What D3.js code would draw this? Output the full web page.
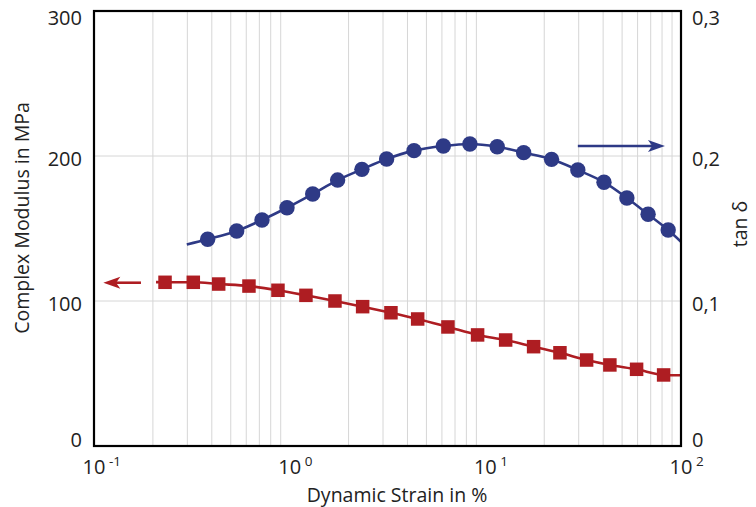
<!DOCTYPE html>
<html>
<head>
<meta charset="utf-8">
<script src="https://cdn.jsdelivr.net/npm/d3@7"></script>
<style>
  body { margin: 0; background: #fff; }
  text { font-family: "Open Sans", "Noto Sans", sans-serif; fill: #222; }
</style>
</head>
<body>
<div id="chart"></div>
<script>
// tan delta (right axis), blue circles
const tanStrain = [0.381, 0.536, 0.722, 0.969, 1.311, 1.758, 2.34, 3.13, 4.32, 6.10, 8.34, 11.5, 15.7, 21.8, 29.7, 40.4, 52.9, 67.9, 86.0];
const tanDelta  = [0.1426, 0.1483, 0.1559, 0.1643, 0.1738, 0.1834, 0.1908, 0.1979, 0.2037, 0.2069, 0.2083, 0.2064, 0.2023, 0.1977, 0.1903, 0.1819, 0.1710, 0.1598, 0.1490];
// fitted curve runs a bit past the measured points
const tanCurveStart = [0.298, 0.139];
const tanCurveEnd   = [100, 0.1409];

// complex modulus (left axis), red squares
const modStrain = [0.2307, 0.3217, 0.4337, 0.6194, 0.8714, 1.211, 1.704, 2.36, 3.293, 4.51, 6.44, 9.13, 12.7, 17.65, 24.06, 32.93, 43.3, 59.3, 81.5];
const modulus   = [112.9, 112.9, 111.7, 110.3, 107.4, 103.9, 100.0, 96.1, 91.9, 87.6, 82.1, 76.6, 73.1, 68.5, 64.3, 59.3, 55.9, 52.9, 49.0];
const modCurveStart = [0.2075, 113.0];
const modCurveEnd   = [100, 48.8];

// axis arrows: [fromStrain, toStrain, value]
const tanArrow = [29.7, 82.8, 0.2069];
const modArrow = [0.1738, 0.1116, 112.6];

const xDecades = [-1, 0, 1, 2];
const yLeftTicks = [0, 100, 200, 300];
const yRightTicks = [0, 0.1, 0.2, 0.3];
const yRightLabels = ['0', '0,1', '0,2', '0,3'];

const W = 756, H = 507;
const m = {t: 11, r: 75, b: 61, l: 94};
const w = W - m.l - m.r, h = H - m.t - m.b;

const blue = '#2e3a86', red = '#ae1d22';

const svg = d3.select('#chart').append('svg').attr('width', W).attr('height', H);

const x = d3.scaleLog().domain([0.1, 100]).range([m.l, m.l + w]);
const yL = d3.scaleLinear().domain([0, 300]).range([m.t + h, m.t]);
const yR = d3.scaleLinear().domain([0, 0.3]).range([m.t + h, m.t]);

svg.append('defs').append('clipPath').attr('id', 'plot')
   .append('rect').attr('x', m.l).attr('y', m.t).attr('width', w).attr('height', h);

// grid
const minor = [];
[0.1, 1, 10].forEach(d => { for (let k = 2; k <= 9; k++) minor.push(d * k); });
const grid = svg.append('g').attr('stroke', '#d6d6d6').attr('stroke-width', 1);
grid.selectAll('.vx').data(minor).join('line')
    .attr('x1', d => x(d)).attr('x2', d => x(d))
    .attr('y1', m.t).attr('y2', m.t + h);
grid.selectAll('.hy').data([100, 200]).join('line')
    .attr('x1', m.l).attr('x2', m.l + w)
    .attr('y1', d => yL(d)).attr('y2', d => yL(d));

// curves
const plot = svg.append('g').attr('clip-path', 'url(#plot)');
const tanPts = [tanCurveStart, ...tanStrain.map((s, i) => [s, tanDelta[i]]), tanCurveEnd];
const modPts = [modCurveStart, ...modStrain.map((s, i) => [s, modulus[i]]), modCurveEnd];

plot.append('path').datum(modPts)
    .attr('fill', 'none').attr('stroke', red).attr('stroke-width', 2.6)
    .attr('d', d3.line().x(d => x(d[0])).y(d => yL(d[1])).curve(d3.curveMonotoneX));
plot.append('path').datum(tanPts)
    .attr('fill', 'none').attr('stroke', blue).attr('stroke-width', 2.6)
    .attr('d', d3.line().x(d => x(d[0])).y(d => yR(d[1])).curve(d3.curveMonotoneX));

// markers
const sq = 13.5;
svg.append('g').selectAll('rect').data(modStrain).join('rect')
   .attr('x', (d) => x(d) - sq / 2)
   .attr('y', (d, i) => yL(modulus[i]) - sq / 2)
   .attr('width', sq).attr('height', sq)
   .attr('fill', red);
svg.append('g').selectAll('circle').data(tanStrain).join('circle')
   .attr('cx', d => x(d))
   .attr('cy', (d, i) => yR(tanDelta[i]))
   .attr('r', 7.7)
   .attr('fill', blue);

// arrows
function arrow(x0, x1, y, color) {
  const dir = Math.sign(x1 - x0), len = 17, hw = 6;
  svg.append('line').attr('x1', x0).attr('x2', x1 - dir * len * 0.7)
     .attr('y1', y).attr('y2', y).attr('stroke', color).attr('stroke-width', 2.6);
  svg.append('path')
     .attr('d', `M${x1},${y} L${x1 - dir * len},${y - hw} L${x1 - dir * len * 0.75},${y} L${x1 - dir * len},${y + hw} Z`)
     .attr('fill', color);
}
arrow(x(tanArrow[0]), x(tanArrow[1]), yR(tanArrow[2]), blue);
arrow(x(modArrow[0]), x(modArrow[1]), yL(modArrow[2]), red);

// frame
svg.append('rect').attr('x', m.l).attr('y', m.t).attr('width', w).attr('height', h)
   .attr('fill', 'none').attr('stroke', '#000').attr('stroke-width', 2.2);

// left tick labels
const clampY = y => Math.max(m.t + 7, Math.min(m.t + h - 6, y + 3));
svg.append('g').selectAll('text').data(yLeftTicks).join('text')
   .attr('x', m.l - 12).attr('y', d => clampY(yL(d)))
   .attr('dy', '0.36em').attr('text-anchor', 'end')
   .attr('font-size', 20).text(d => d);

// right tick labels
svg.append('g').selectAll('text').data(yRightTicks).join('text')
   .attr('x', m.l + w + 11).attr('y', d => clampY(yR(d)))
   .attr('dy', '0.36em').attr('text-anchor', 'start')
   .attr('font-size', 20).text((d, i) => yRightLabels[i]);

// bottom tick labels: 10 with superscript exponent
const xl = svg.append('g').selectAll('g').data(xDecades).join('g')
   .attr('transform', d => `translate(${x(Math.pow(10, d))},${m.t + h + 28})`);
xl.append('text').attr('text-anchor', 'middle').attr('font-size', 20).text('10');
xl.append('text').attr('x', 15).attr('y', -8).attr('font-size', 13.5).text(d => d);

// axis titles
svg.append('text').attr('x', 397).attr('y', 502).attr('text-anchor', 'middle')
   .attr('font-size', 19.5).text('Dynamic Strain in %');
svg.append('text').attr('transform', 'translate(29,218) rotate(-90)')
   .attr('text-anchor', 'middle').attr('font-size', 19.5).text('Complex Modulus in MPa');
svg.append('text').attr('transform', 'translate(747,224) rotate(-90)')
   .attr('text-anchor', 'middle').attr('font-size', 19.5).text('tan δ');
</script>
</body>
</html>
